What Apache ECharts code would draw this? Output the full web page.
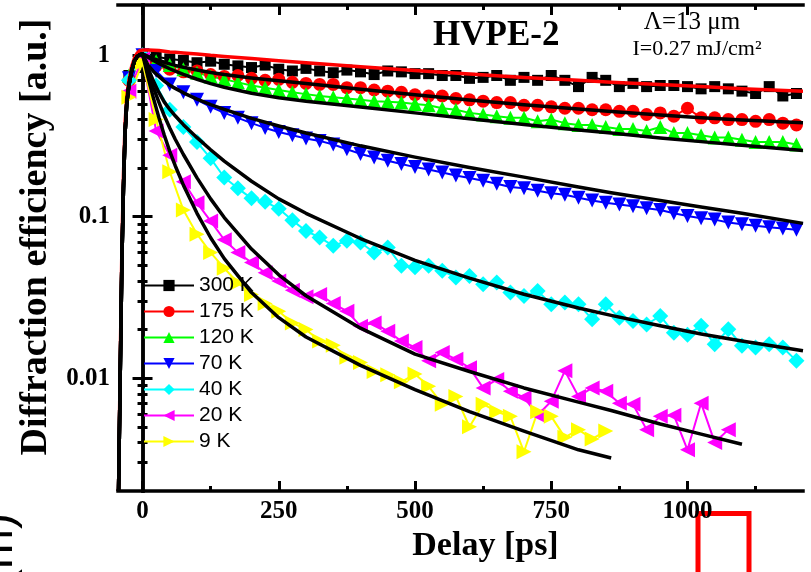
<!DOCTYPE html>
<html>
<head>
<meta charset="utf-8">
<script src="https://cdn.jsdelivr.net/npm/echarts@6.0.0/dist/echarts.min.js"></script>
<style>
  html, body { margin: 0; padding: 0; background: #fff; }
  #chart { width: 811px; height: 572px; }
</style>
</head>
<body>
<div id="chart"></div>
<script>
// delay grid of the measured points [ps]
var delay = [-25, 0, 25, 50, 75, 100, 125, 150, 175, 200, 225, 250, 275, 300, 325, 350, 375, 400, 425, 450,
  475, 500, 525, 550, 575, 600, 625, 650, 675, 700, 725, 750, 775, 800, 825, 850, 875, 900, 925, 950,
  975, 1000, 1025, 1050, 1075, 1100, 1125, 1150, 1175, 1200]

var k300 = [0.75, 1.0, 0.98, 0.95, 0.93, 0.90, 0.92, 0.88, 0.86, 0.84, 0.87, 0.82, 0.80, 0.83, 0.80, 0.78, 0.81, 0.79, 0.76, 0.80,
  0.79, 0.77, 0.77, 0.75, 0.75, 0.72, 0.73, 0.75, 0.70, 0.73, 0.70, 0.75, 0.70, 0.64, 0.73, 0.70, 0.64, 0.67, 0.64, 0.65,
  0.65, 0.64, 0.62, 0.64, 0.62, 0.60, 0.58, 0.64, 0.56, 0.58]
var k175 = [0.70, 0.98, 0.86, 0.82, 0.79, 0.80, 0.76, 0.74, 0.75, 0.72, 0.70, 0.71, 0.68, 0.67, 0.66, 0.66, 0.63, 0.63, 0.61, 0.60,
  0.59, 0.57, 0.56, 0.56, 0.54, 0.53, 0.52, 0.51, 0.51, 0.49, 0.49, 0.48, 0.47, 0.47, 0.46, 0.46, 0.45, 0.45, 0.43, 0.44,
  0.42, 0.47, 0.41, 0.41, 0.40, 0.40, 0.39, 0.40, 0.38, 0.37]
var k120 = [0.75, 1.0, 0.92, 0.87, 0.82, 0.78, 0.74, 0.71, 0.68, 0.65, 0.63, 0.61, 0.59, 0.575, 0.56, 0.55, 0.54, 0.53, 0.52, 0.515,
  0.51, 0.50, 0.49, 0.47, 0.46, 0.44, 0.43, 0.42, 0.41, 0.41, 0.39, 0.40, 0.38, 0.37, 0.37, 0.36, 0.35, 0.35, 0.34, 0.36,
  0.33, 0.33, 0.32, 0.31, 0.31, 0.30, 0.29, 0.29, 0.29, 0.28]
var k70 = [0.72, 1.0, 0.80, 0.66, 0.59, 0.53, 0.48, 0.44, 0.41, 0.38, 0.355, 0.335, 0.32, 0.305,
  0.295, 0.280, 0.262, 0.245, 0.233, 0.222, 0.212, 0.203, 0.196, 0.188, 0.180, 0.174, 0.167, 0.160, 0.153, 0.150,
  0.145, 0.140, 0.137, 0.131, 0.126, 0.122, 0.119, 0.116, 0.113, 0.110, 0.105, 0.101, 0.098, 0.096, 0.092, 0.090,
  0.088, 0.086, 0.0845, 0.083]
var k40 = [0.70, 1.0, 0.65, 0.46, 0.36, 0.29, 0.23, 0.175, 0.15, 0.13, 0.124, 0.112, 0.095,
  0.0817, 0.0744, 0.0661, 0.0709, 0.0693, 0.0601, 0.0646, 0.0497, 0.0486, 0.0497, 0.0463, 0.0421, 0.0430, 0.0382,
  0.0391, 0.0339, 0.0323, 0.0347, 0.0287, 0.0294, 0.0287, 0.0232, 0.0287, 0.0237, 0.0226, 0.0215, 0.0243, 0.0191,
  0.0186, 0.0211, 0.0162, 0.0201, 0.0159, 0.0155, 0.0162, 0.0155, 0.0128]
var k20 = [0.60, 0.95, 0.34, 0.24, 0.165, 0.122, 0.094, 0.072, 0.060, 0.052, 0.045, 0.040, 0.035, 0.032, 0.033, 0.029, 0.026, 0.021, 0.022, 0.0195,
  0.0170, 0.0155, 0.0128, 0.0144, 0.0131, 0.0116, 0.0087, 0.0098, 0.0083, 0.0076, 0.0059, 0.0072, 0.0111, 0.0077, 0.0087,
  0.0083, 0.0070, 0.0069, 0.0048, 0.0058, 0.0059, 0.0036, 0.0070, 0.0040, 0.0048, null, null, null, null, null]
var k9 = [0.55, 0.90, 0.40, 0.19, 0.11, 0.078, 0.060, 0.048, 0.039, 0.033, 0.029, 0.026, 0.022, 0.020, 0.017, 0.016, 0.0135, 0.0125, 0.011, 0.0105,
  0.0095, 0.0106, 0.0089, 0.0069, 0.0077, 0.0050, 0.0069, 0.0062, 0.0058, 0.0035, 0.0062, 0.0058, 0.0043, 0.0048, 0.0042, 0.0047,
  null, null, null, null, null, null, null, null, null, null, null, null, null, null]

// fitted curves
var fitDelay = [-44, -41, -38, -35, -32, -29, -25, -20, -15, -10, -5, 0, 10, 20, 30, 40, 50, 60, 75, 100, 125, 150,
  200, 250, 300, 400, 500, 600, 700, 800, 860, 950, 1025, 1100, 1212]
var fit300 = [0.002, 0.012, 0.06, 0.18, 0.38, 0.55, 0.70, 0.85, 0.96, 1.03, 1.07, 1.08, 1.08, 1.075, 1.07, 1.06, 1.05, 1.045, 1.035, 1.02, 1.0, 0.985,
  0.955, 0.925, 0.90, 0.85, 0.805, 0.765, 0.73, 0.70, 0.68, 0.66, 0.64, 0.62, 0.60]
var fit175 = [0.002, 0.01, 0.05, 0.15, 0.33, 0.5, 0.65, 0.8, 0.92, 0.98, 1.01, 1.02, 0.986, 0.955, 0.929, 0.906, 0.885, 0.867, 0.843, 0.811, 0.783, 0.760,
  0.724, 0.695, 0.668, 0.617, 0.569, 0.528, 0.494, 0.465, 0.449, 0.427, 0.410, 0.398, 0.382]
var fit120 = [0.002, 0.01, 0.05, 0.15, 0.33, 0.5, 0.65, 0.8, 0.92, 0.98, 1.01, 1.02, 0.973, 0.929, 0.891, 0.857, 0.826, 0.798, 0.762, 0.711, 0.668, 0.634,
  0.582, 0.546, 0.519, 0.479, 0.440, 0.405, 0.373, 0.345, 0.330, 0.308, 0.292, 0.277, 0.257]
var fit70 = [0.002, 0.01, 0.05, 0.15, 0.33, 0.5, 0.65, 0.8, 0.92, 0.98, 1.01, 1.02, 0.871, 0.794, 0.741, 0.692, 0.653, 0.624, 0.586, 0.535, 0.495, 0.462,
  0.407, 0.365, 0.330, 0.275, 0.234, 0.202, 0.176, 0.153, 0.141, 0.126, 0.115, 0.105, 0.091]
var fit40 = [0.002, 0.01, 0.05, 0.15, 0.33, 0.5, 0.65, 0.8, 0.92, 0.98, 1.01, 1.02, 0.832, 0.692, 0.589, 0.513, 0.462, 0.422, 0.372, 0.309, 0.260, 0.221,
  0.166, 0.129, 0.105, 0.0733, 0.0537, 0.0417, 0.0331, 0.0272, 0.0245, 0.0211, 0.0188, 0.0170, 0.0148]
var fit20 = [0.002, 0.01, 0.05, 0.15, 0.33, 0.5, 0.65, 0.8, 0.92, 0.98, 1.01, 1.02, 0.794, 0.631, 0.513, 0.422, 0.355, 0.302, 0.243, 0.174, 0.129, 0.0989,
  0.0631, 0.0437, 0.0324, 0.0204, 0.0141, 0.0110, 0.0087, 0.0071, 0.0063, 0.0052, 0.0045, 0.0039, null]
var fit9 = [0.002, 0.01, 0.05, 0.15, 0.33, 0.5, 0.65, 0.8, 0.92, 0.98, 1.01, 1.02, 0.733, 0.543, 0.412, 0.320, 0.254, 0.207, 0.157, 0.105, 0.0741, 0.0550,
  0.0339, 0.0237, 0.0180, 0.0120, 0.0085, 0.0062, 0.0047, 0.0036, 0.0032, null, null, null, null]

// axis ticks
var xMajorTicks = [0, 250, 500, 750, 1000]
var xMinorTicks = [125, 375, 625, 875, 1125]
var yMajorTicks = [0.01, 0.1, 1]
var yMinorTicks = [0.003, 0.004, 0.005, 0.006, 0.007, 0.008, 0.009,
  0.02, 0.03, 0.04, 0.05, 0.06, 0.07, 0.08, 0.09,
  0.2, 0.3, 0.4, 0.5, 0.6, 0.7, 0.8, 0.9]

var serif = '"Liberation Serif", "Times New Roman", serif'
var sans = '"Liberation Sans", Arial, sans-serif'

function pairs(xs, ys) {
  var out = []
  xs.forEach(function (x, i) {
    if (ys[i] != null) out.push([x, ys[i]])
  })
  return out
}

function xAxisOf(position, ticks, len, main) {
  return {
    type: 'value',
    position: position,
    min: -45,
    max: 1212,
    axisLine: { show: main, lineStyle: { color: '#000', width: 3.5, cap: 'square' } },
    axisTick: { show: true, inside: true, length: len, customValues: ticks, lineStyle: { color: '#000', width: 3 } },
    axisLabel: {
      show: main && position === 'bottom',
      customValues: ticks,
      margin: 8,
      color: '#000',
      fontSize: 25,
      fontWeight: 'bold',
      fontFamily: serif,
      formatter: function (v) { return String(v) }
    },
    splitLine: { show: false }
  }
}

function yAxisOf(position, ticks, len, main) {
  return {
    type: 'log',
    logBase: 10,
    position: position,
    min: 0.002,
    max: 2.05,
    axisLine: { show: main, lineStyle: { color: '#000', width: 3.5, cap: 'square' } },
    axisTick: { show: true, inside: true, length: len, customValues: ticks, lineStyle: { color: '#000', width: 3 } },
    axisLabel: {
      show: main && position === 'left',
      customValues: ticks,
      margin: 8,
      color: '#000',
      fontSize: 25,
      fontWeight: 'bold',
      fontFamily: serif,
      formatter: function (v) { return String(v) }
    },
    splitLine: { show: false },
    minorTick: { show: false }
  }
}

var xMain = xAxisOf('bottom', xMajorTicks, 10, true)
xMain.name = 'Delay [ps]'
xMain.nameLocation = 'middle'
xMain.nameGap = 36
xMain.nameTextStyle = { color: '#000', fontSize: 34, fontWeight: 'bold', fontFamily: serif, padding: [0, 0, 0, 50] }

var yMain = yAxisOf('left', yMajorTicks, 10, true)
yMain.name = 'Diffraction efficiency [a.u.]'
yMain.nameLocation = 'middle'
yMain.nameGap = 60
yMain.nameTextStyle = { color: '#000', fontSize: 38, fontWeight: 'bold', fontFamily: serif, padding: [0, 0, 0, 22] }

var dataSeries = [
  { name: '300 K', ys: k300, color: '#000000', symbol: 'rect', size: 11, rotate: 0 },
  { name: '175 K', ys: k175, color: '#ff0000', symbol: 'circle', size: 13, rotate: 0 },
  { name: '120 K', ys: k120, color: '#00ff00', symbol: 'triangle', size: 14, rotate: 0 },
  { name: '70 K', ys: k70, color: '#0000ff', symbol: 'triangle', size: 14, rotate: 180 },
  { name: '40 K', ys: k40, color: '#00ffff', symbol: 'diamond', size: 16, rotate: 0 },
  { name: '20 K', ys: k20, color: '#ff00ff', symbol: 'triangle', size: 15, rotate: 90 },
  { name: '9 K', ys: k9, color: '#ffff00', symbol: 'triangle', size: 15, rotate: -90 }
]
var fits = [
  { ys: fit300, color: '#ff0000' },
  { ys: fit175, color: '#000000' },
  { ys: fit120, color: '#000000' },
  { ys: fit70, color: '#000000' },
  { ys: fit40, color: '#000000' },
  { ys: fit20, color: '#000000' },
  { ys: fit9, color: '#000000' }
]

var series = []
dataSeries.forEach(function (s) {
  series.push({
    name: s.name,
    type: 'line',
    data: pairs(delay, s.ys),
    symbol: s.symbol,
    symbolSize: s.size,
    symbolRotate: s.rotate,
    lineStyle: { color: s.color, width: 2 },
    itemStyle: { color: s.color },
    z: 2
  })
})
fits.forEach(function (f, i) {
  series.push({
    name: 'fit ' + dataSeries[i].name,
    type: 'line',
    data: pairs(fitDelay, f.ys),
    showSymbol: false,
    symbol: 'none',
    smooth: false,
    lineStyle: { color: f.color, width: 3.5, join: 'round' },
    silent: true,
    z: 3
  })
})

var chart = echarts.init(document.getElementById('chart'))
chart.setOption({
  animation: false,
  backgroundColor: '#fff',
  grid: { left: 118, right: 8, top: 5, bottom: 81 },
  xAxis: [
    xMain,
    xAxisOf('bottom', xMinorTicks, 5, false),
    xAxisOf('top', xMajorTicks, 10, true),
    xAxisOf('top', xMinorTicks, 5, false)
  ],
  yAxis: [
    yMain,
    yAxisOf('left', yMinorTicks, 5, false),
    yAxisOf('right', yMajorTicks, 10, true),
    yAxisOf('right', yMinorTicks, 5, false)
  ],
  legend: {
    orient: 'vertical',
    left: 138,
    top: 270,
    itemWidth: 50,
    itemHeight: 14,
    itemGap: 5,
    textStyle: { color: '#000', fontSize: 21, fontFamily: sans, lineHeight: 19 },
    data: dataSeries.map(function (s) { return s.name })
  },
  graphic: [
    {
      type: 'text', x: 433, y: 18,
      style: { text: 'HVPE-2', fill: '#000', fontSize: 35, fontWeight: 'bold', fontFamily: serif }
    },
    {
      type: 'text', x: 692, y: 10,
      style: { text: 'Λ=13 μm', fill: '#000', fontSize: 25, fontFamily: serif, textAlign: 'center' }
    },
    {
      type: 'text', x: 697, y: 38,
      style: { text: 'I=0.27 mJ/cm²', fill: '#000', fontSize: 22, fontFamily: serif, textAlign: 'center' }
    },
    {
      type: 'rect',
      shape: { x: 698, y: 513.5, width: 51, height: 80 },
      style: { fill: null, stroke: '#ff0000', lineWidth: 5 }
    },
    {
      type: 'text', x: 23, y: 549, rotation: Math.PI / 2,
      style: { text: '(m)', fill: '#000', fontSize: 48, fontFamily: sans, textAlign: 'center', textVerticalAlign: 'bottom' }
    }
  ],
  series: series
})
</script>
</body>
</html>
